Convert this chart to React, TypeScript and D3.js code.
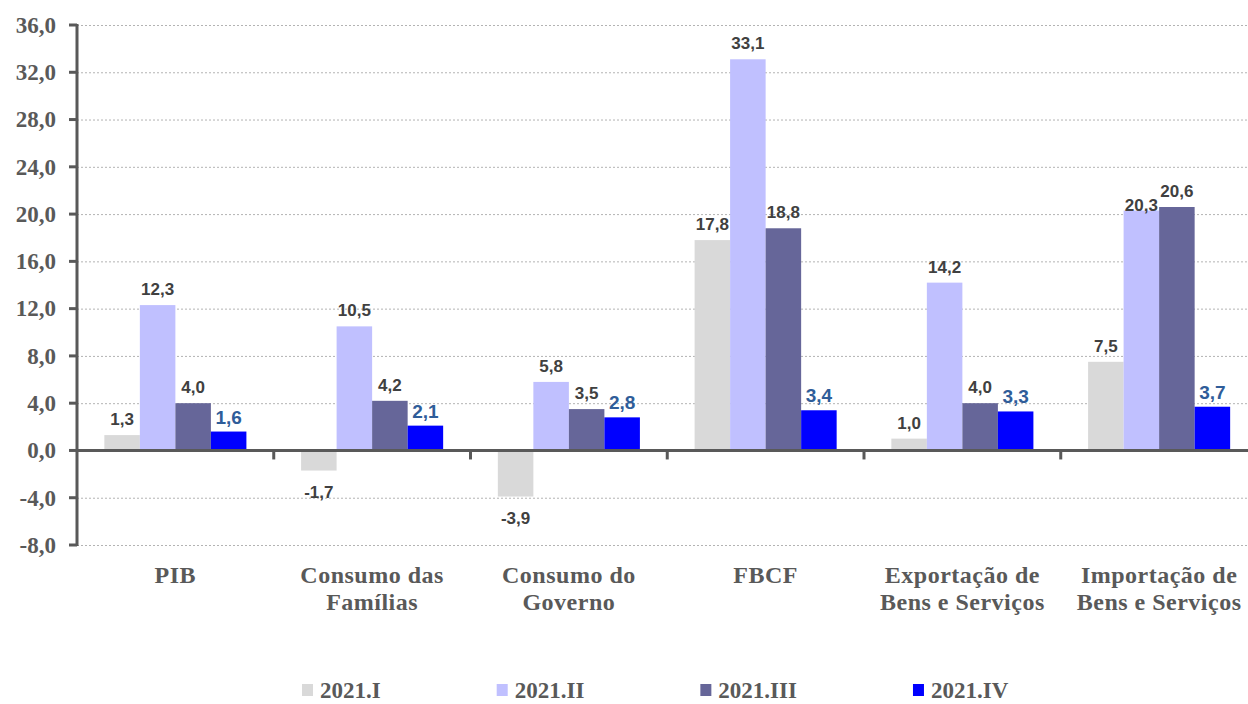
import * as d3 from 'd3';
import React, { useRef, useEffect } from 'react';

// categorias e séries
const categories = [
  ['PIB'],
  ['Consumo das', 'Famílias'],
  ['Consumo do', 'Governo'],
  ['FBCF'],
  ['Exportação de', 'Bens e Serviços'],
  ['Importação de', 'Bens e Serviços'],
];
const series = ['2021.I', '2021.II', '2021.III', '2021.IV'];
const q1 = [1.3, -1.7, -3.9, 17.8, 1.0, 7.5];
const q2 = [12.3, 10.5, 5.8, 33.1, 14.2, 20.3];
const q3 = [4.0, 4.2, 3.5, 18.8, 4.0, 20.6];
const q4 = [1.6, 2.1, 2.8, 3.4, 3.3, 3.7];
const yTicks = [-8, -4, 0, 4, 8, 12, 16, 20, 24, 28, 32, 36];
const colors = ['#d9d9d9', '#c0c0ff', '#666699', '#0000ff'];

const W = 1248;
const H = 704;

function App() {
  const ref = useRef<SVGSVGElement>(null);

  useEffect(() => {
    draw();
  }, []);

  const draw = () => {
    const svg = d3.select(ref.current);
    svg.selectAll('*').remove();

    const values = [q1, q2, q3, q4];
    const keys = categories.map((c) => c.join(' '));
    const data = keys.map((k, i) => ({
      key: k,
      lines: categories[i],
      vals: values.map((v) => v[i]),
    }));

    const left = 77;
    const band = 196.75;
    const yScale = d3.scaleLinear().domain([-8, 36]).range([545, 25]);
    const x0 = d3.scaleBand().domain(keys).range([left, left + band * keys.length]).padding(0);
    const x1 = d3.scaleBand().domain(series).range([0, x0.bandwidth()]).paddingInner(0).paddingOuter(0.77);
    const fmt = (v: number) => d3.format('.1f')(v).replace('.', ',').replace('−', '-');

    // grade
    svg.append('g')
      .selectAll('line')
      .data(yTicks.filter((t) => t !== 0))
      .enter()
      .append('line')
      .attr('x1', left)
      .attr('x2', W)
      .attr('y1', (d) => yScale(d) + 0.5)
      .attr('y2', (d) => yScale(d) + 0.5)
      .attr('stroke', '#b3b3b3')
      .attr('stroke-width', 1)
      .attr('stroke-dasharray', '2,2');

    // barras
    const groups = svg.append('g')
      .selectAll('g')
      .data(data)
      .enter()
      .append('g')
      .attr('transform', (d) => `translate(${x0(d.key)},0)`);

    groups.selectAll('rect')
      .data((d) => d.vals.map((v, i) => ({ s: series[i], v, i })))
      .enter()
      .append('rect')
      .attr('x', (d) => x1(d.s)!)
      .attr('width', x1.bandwidth())
      .attr('y', (d) => yScale(Math.max(0, d.v)))
      .attr('height', (d) => Math.abs(yScale(d.v) - yScale(0)))
      .attr('fill', (d) => colors[d.i]);

    // rótulos
    groups.each(function (d) {
      const g = d3.select(this);
      const items = d.vals.map((v, i) => {
        const t = g.append('text')
          .attr('text-anchor', 'middle')
          .attr('x', x1(series[i])! + x1.bandwidth() / 2)
          .attr('font-family', '"Liberation Sans", Arial, sans-serif')
          .attr('font-weight', 'bold')
          .attr('font-size', i === 3 ? 19 : 17)
          .attr('fill', i === 3 ? '#2f5d99' : '#404040')
          .text(fmt(v));
        const base = v >= 0 ? yScale(v) - (i === 3 ? 8 : 10) : yScale(v) + 27;
        t.attr('y', base);
        const w = (t.node() as SVGTextElement).getComputedTextLength();
        return { t, v, i, base, cx: x1(series[i])! + x1.bandwidth() / 2, w };
      });
      // evita sobreposição entre rótulos vizinhos
      for (let k = 0; k < items.length - 1; k++) {
        const a = items[k];
        const b = items[k + 1];
        const gap = b.cx - b.w / 2 - (a.cx + a.w / 2);
        if (gap < 4 && Math.abs(a.base - b.base) < 14) {
          const low = a.v < b.v ? a : b;
          low.base = yScale(low.v);
          low.t.attr('y', low.base);
        }
      }
    });

    // eixo y
    svg.append('line')
      .attr('x1', left).attr('x2', left)
      .attr('y1', yScale(36) - 1).attr('y2', yScale(-8) + 1)
      .attr('stroke', '#595959').attr('stroke-width', 3);

    svg.append('g')
      .selectAll('line')
      .data(yTicks)
      .enter()
      .append('line')
      .attr('x1', left - 8).attr('x2', left)
      .attr('y1', (d) => yScale(d)).attr('y2', (d) => yScale(d))
      .attr('stroke', '#595959').attr('stroke-width', 3);

    svg.append('g')
      .selectAll('text')
      .data(yTicks)
      .enter()
      .append('text')
      .attr('x', 56)
      .attr('y', (d) => yScale(d))
      .attr('dy', '0.34em')
      .attr('text-anchor', 'end')
      .attr('font-family', '"Liberation Serif", "Times New Roman", serif')
      .attr('font-weight', 'bold')
      .attr('font-size', 23)
      .attr('fill', '#595959')
      .text((d) => fmt(d));

    // linha do zero
    svg.append('line')
      .attr('x1', left).attr('x2', W)
      .attr('y1', yScale(0)).attr('y2', yScale(0))
      .attr('stroke', '#595959').attr('stroke-width', 3);

    svg.append('g')
      .selectAll('line')
      .data(keys.slice(1))
      .enter()
      .append('line')
      .attr('x1', (d) => x0(d)!).attr('x2', (d) => x0(d)!)
      .attr('y1', yScale(0)).attr('y2', yScale(0) + 9)
      .attr('stroke', '#595959').attr('stroke-width', 3);

    // categorias
    const cat = svg.append('g')
      .selectAll('text')
      .data(data)
      .enter()
      .append('text')
      .attr('text-anchor', 'middle')
      .attr('font-family', '"Liberation Serif", "Times New Roman", serif')
      .attr('font-weight', 'bold')
      .attr('font-size', 24)
      .attr('letter-spacing', 0.5)
      .attr('fill', '#595959');
    cat.each(function (d) {
      const t = d3.select(this);
      d.lines.forEach((ln, j) => {
        t.append('tspan')
          .attr('x', x0(d.key)! + x0.bandwidth() / 2)
          .attr('y', 583 + j * 27)
          .text(ln);
      });
    });

    // legenda
    const legend = svg.append('g');
    let lx = 302;
    series.forEach((s, i) => {
      legend.append('rect')
        .attr('x', lx).attr('y', 684)
        .attr('width', 11).attr('height', 12)
        .attr('fill', colors[i]);
      const t = legend.append('text')
        .attr('x', lx + 18).attr('y', 698)
        .attr('font-family', '"Liberation Serif", "Times New Roman", serif')
        .attr('font-weight', 'bold')
        .attr('font-size', 23)
        .attr('fill', '#595959')
        .text(s);
      const w = (t.node() as SVGTextElement).getComputedTextLength();
      lx = lx + 18 + w + 116;
    });
  };

  return (
    <div className="chart" style={{ position: 'absolute', left: 0, top: 0 }}>
      <svg ref={ref} width={W} height={H} style={{ display: 'block', background: '#fff' }}></svg>
    </div>
  );
}

export default App;
